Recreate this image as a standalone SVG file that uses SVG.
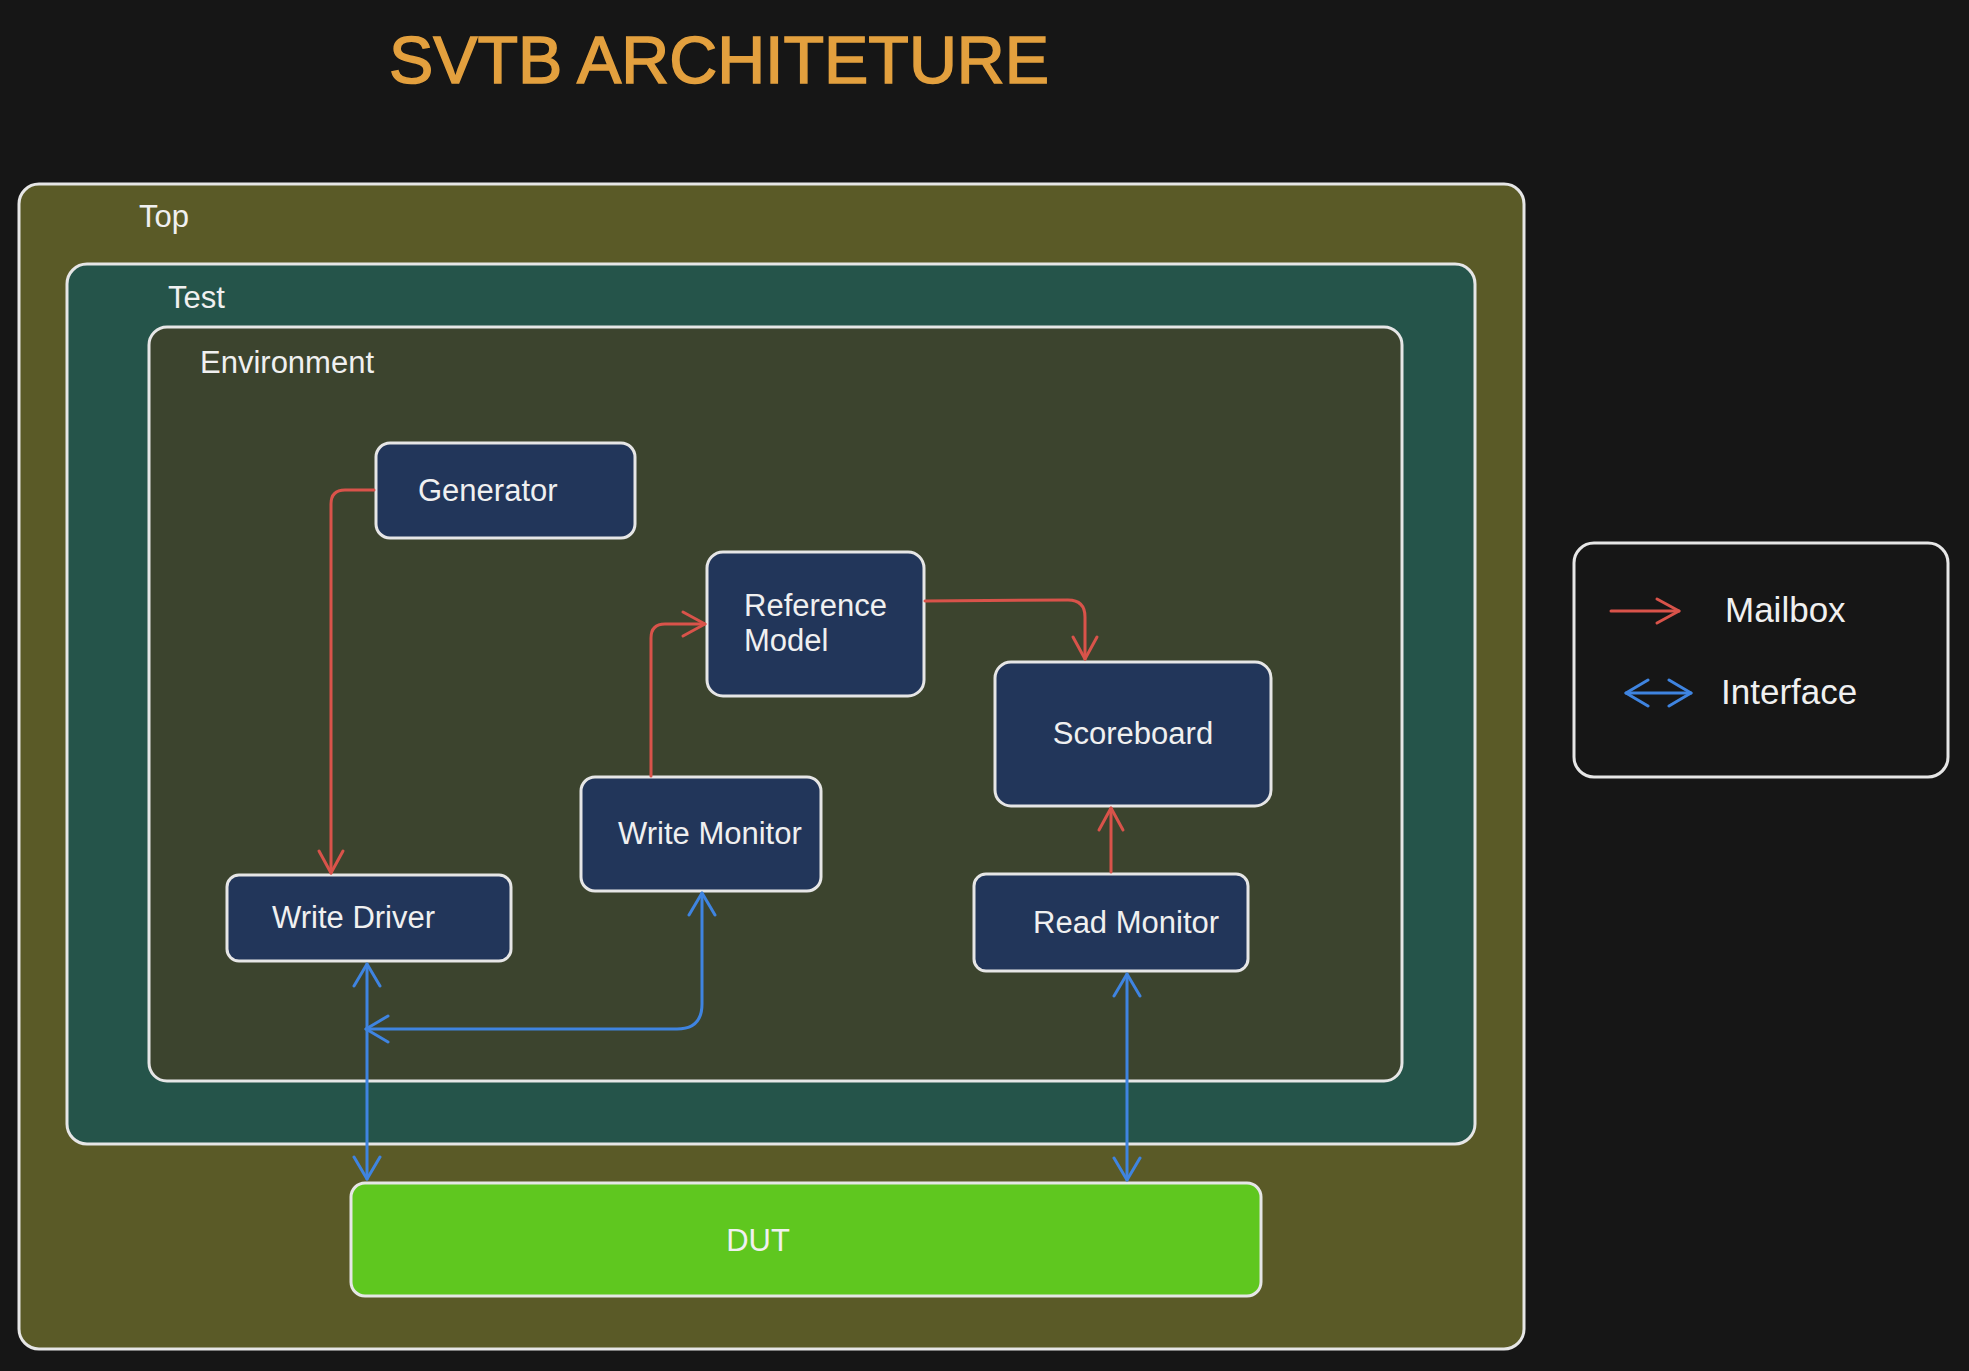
<svg xmlns="http://www.w3.org/2000/svg" width="1969" height="1371" viewBox="0 0 1969 1371">
<defs>
<style>
.box{stroke:#e6e6e6;stroke-width:3;}
.node{fill:#22365a;stroke:#e6e6e6;stroke-width:3;}
.t{font-family:"Liberation Sans",Arial,Helvetica,sans-serif;fill:#f0f0f0;font-size:31px;}
.red{fill:none;stroke:#d9534a;stroke-width:3;stroke-linecap:round;stroke-linejoin:round;}
.blue{fill:none;stroke:#3f84e0;stroke-width:3;stroke-linecap:round;stroke-linejoin:round;}
</style>
<marker id="ar" markerUnits="userSpaceOnUse" markerWidth="30" markerHeight="30" viewBox="-26 -15 30 30" refX="0" refY="0" orient="auto-start-reverse">
<path d="M -22 -12 L 0 0 L -22 12" fill="none" stroke="#d9534a" stroke-width="3" stroke-linecap="round" stroke-linejoin="round"/>
</marker>
<marker id="ab" markerUnits="userSpaceOnUse" markerWidth="30" markerHeight="30" viewBox="-26 -15 30 30" refX="0" refY="0" orient="auto-start-reverse">
<path d="M -22 -13 L 0 0 L -22 13" fill="none" stroke="#3f84e0" stroke-width="3" stroke-linecap="round" stroke-linejoin="round"/>
</marker>
</defs>
<rect width="1969" height="1371" fill="#161616"/>
<text id="title" x="389" y="83" font-family="'Liberation Sans',Arial,sans-serif" font-size="66" fill="#e3a03e" stroke="#e3a03e" stroke-width="1.5" textLength="660" lengthAdjust="spacingAndGlyphs">SVTB ARCHITETURE</text>

<g id="top">
<rect class="box" x="19" y="184" width="1505" height="1165" rx="20" fill="#5a5a27"/>
<text class="t" x="139" y="227">Top</text>
</g>
<g id="test">
<rect class="box" x="67" y="264" width="1408" height="880" rx="20" fill="#25544a"/>
<text class="t" x="168" y="308">Test</text>
</g>
<g id="environment">
<rect class="box" x="149" y="327" width="1253" height="754" rx="18" fill="#3c442e"/>
<text class="t" x="200" y="373">Environment</text>
</g>

<g id="generator">
<rect class="node" x="376" y="443" width="259" height="95" rx="14"/>
<text class="t" x="418" y="501">Generator</text>
</g>
<g id="reference-model">
<rect class="node" x="707" y="552" width="217" height="144" rx="16"/>
<text class="t" x="744" y="616">Reference</text>
<text class="t" x="744" y="651">Model</text>
</g>
<g id="scoreboard">
<rect class="node" x="995" y="662" width="276" height="144" rx="16"/>
<text class="t" x="1133" y="744" text-anchor="middle">Scoreboard</text>
</g>
<g id="write-monitor">
<rect class="node" x="581" y="777" width="240" height="114" rx="14"/>
<text class="t" x="618" y="844">Write Monitor</text>
</g>
<g id="write-driver">
<rect class="node" x="227" y="875" width="284" height="86" rx="12"/>
<text class="t" x="272" y="928">Write Driver</text>
</g>
<g id="read-monitor">
<rect class="node" x="974" y="874" width="274" height="97" rx="12"/>
<text class="t" x="1033" y="933">Read Monitor</text>
</g>
<g id="dut">
<rect class="box" x="351" y="1183" width="910" height="113" rx="14" fill="#5fc71f"/>
<text class="t" x="758" y="1251" text-anchor="middle">DUT</text>
</g>

<g id="legend">
<rect class="box" x="1574" y="543" width="374" height="234" rx="20" fill="#161616"/>
<path class="red" d="M 1611 611 L 1679 611" marker-end="url(#ar)"/>
<text class="t" x="1725" y="622" style="font-size:35px">Mailbox</text>
<path class="blue" d="M 1626 693 L 1691 693" marker-start="url(#ab)" marker-end="url(#ab)"/>
<text class="t" x="1721" y="704" style="font-size:35px">Interface</text>
</g>

<g id="connectors">
<path class="red" d="M 374 490 L 345 490 Q 331 490 331 504 L 331 873" marker-end="url(#ar)"/>
<path class="red" d="M 651 776 L 651 638 Q 651 624 665 624 L 705 624" marker-end="url(#ar)"/>
<path class="red" d="M 925 601 L 1068 600 Q 1085 600 1085 617 L 1085 659" marker-end="url(#ar)"/>
<path class="red" d="M 1111 872 L 1111 808" marker-end="url(#ar)"/>
<path class="blue" d="M 367 964 L 367 1179" marker-start="url(#ab)" marker-end="url(#ab)"/>
<path class="blue" d="M 702 893 L 702 1004 Q 702 1029 677 1029 L 366 1029" marker-start="url(#ab)" marker-end="url(#ab)"/>
<path class="blue" d="M 1127 974 L 1127 1180" marker-start="url(#ab)" marker-end="url(#ab)"/>
</g>
</svg>
